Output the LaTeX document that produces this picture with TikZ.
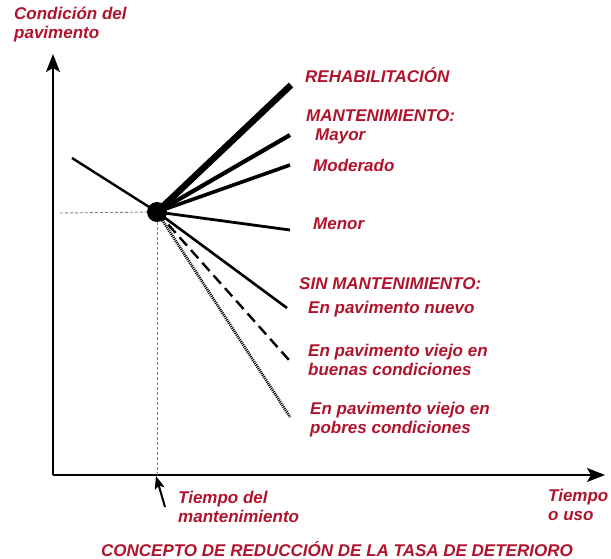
\documentclass[tikz,border=0pt]{standalone}
\usepackage{fontspec}
\setmainfont{Liberation Sans}
\usetikzlibrary{arrows, arrows.meta}
\definecolor{rojo}{HTML}{B0142C}

\begin{document}
\tikzset{lbl/.style={text=rojo, font=\bfseries\itshape\fontsize{17}{19}\selectfont, anchor=west, inner sep=0, align=left},
guide/.style={gray, dashed, dash pattern=on 3 off 2, line width=0.9},
axis/.style={line width=2, -{Stealth[length=18, width=14, inset=4]}}}
\begin{tikzpicture}[x=1pt, y=-1pt]
\useasboundingbox (0,0) rectangle (611,559);
\coordinate (origin) at (53,475);
\coordinate (ytip) at (53,54);
\coordinate (xtip) at (605,475);
\coordinate (start) at (72,158);
\coordinate (hleft) at (60,213);
\coordinate (foot) at (157,475);
\coordinate (pc) at (157,212);
% axes
\draw [axis] (origin) -- (ytip);
\draw [axis] (origin) -- (xtip);
\draw [guide] (hleft) -- (pc);
\draw [guide] (pc) -- (foot);
\draw [line width=2.4] (start) -- (pc);
% end points
\coordinate (rehab) at (291,85);
\coordinate (mayor) at (290,135);
\coordinate (moder) at (290,165);
\coordinate (menor) at (290,230);
\coordinate (nuevo) at (287,308);
\coordinate (buenas) at (289,360);
\coordinate (pobres) at (290,417);
\draw [line width=6.5] (pc) -- (rehab);
\draw [line width=4.2] (pc) -- (mayor);
\draw [line width=3.6] (pc) -- (moder);
\draw [line width=2.8] (pc) -- (menor);
\draw [line width=2.6] (pc) -- (nuevo);
\draw [line width=2.4, dash pattern=on 11 off 6] (pc) -- (buenas);
\draw [line width=2.8, dash pattern=on 1 off 1] (pc) -- (pobres);
% point of intervention
\node (p) [circle, fill=black, minimum size=20, inner sep=0] at (pc) {};
% labels
\node (ycap) [lbl] at (14,25) {Condición del\\pavimento};
\node (lrehab) [lbl] at (305,75) {REHABILITACIÓN};
\node (lmant) [lbl] at (306,116) {MANTENIMIENTO:};
\node (lmayor) [lbl] at (315,136) {Mayor};
\node (lmoder) [lbl] at (313,165) {Moderado};
\node (lmenor) [lbl] at (313,224) {Menor};
\node (lsin) [lbl] at (299,284) {SIN MANTENIMIENTO:};
\node (lnuevo) [lbl] at (308,309) {En pavimento nuevo};
\node (lbuenas) [lbl] at (308,360) {En pavimento viejo en\\buenas condiciones};
\node (lpobres) [lbl] at (310,420) {En pavimento viejo en\\pobres condiciones};
\node (ltiempo) [lbl] at (178,507) {Tiempo del\\mantenimiento};
\node (lx) [lbl] at (548,505) {Tiempo\\o uso};
\node (title) [lbl, anchor=center] at (337,549) {CONCEPTO DE REDUCCIÓN DE LA TASA DE DETERIORO};
\coordinate (mark) at (156,476);
\coordinate (tail) at (165,507);
\draw [line width=2, -{Stealth[length=13, width=10, inset=3]}] (tail) -- (mark);
\end{tikzpicture}
\end{document}
